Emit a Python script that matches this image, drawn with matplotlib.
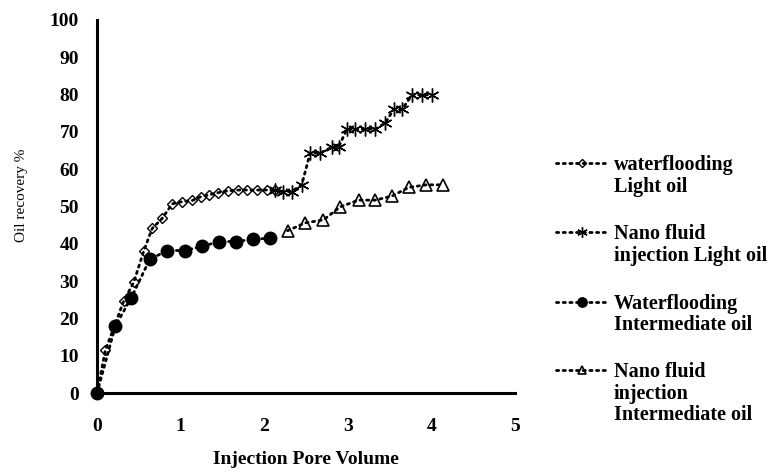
import matplotlib
matplotlib.use("Agg")
import matplotlib.pyplot as plt
from matplotlib.lines import Line2D

plt.rcParams["font.family"] = ["Liberation Serif", "DejaVu Serif"]

# waterflooding, light oil
wf_light_x = [0, 0.10, 0.21, 0.32, 0.44, 0.56, 0.66, 0.78, 0.90, 1.02, 1.14,
              1.24, 1.34, 1.45, 1.57, 1.69, 1.79, 1.91, 2.03, 2.13]
wf_light_y = [0, 11.5, 18.0, 24.7, 29.7, 38.1, 44.1, 46.8, 50.7, 51.3, 51.6,
              52.6, 53.1, 53.7, 54.2, 54.4, 54.4, 54.4, 54.4, 54.4]

# nano fluid injection, light oil
nf_light_x = [2.13, 2.23, 2.33, 2.45, 2.55, 2.67, 2.81, 2.89, 2.99, 3.09,
              3.21, 3.33, 3.45, 3.55, 3.65, 3.77, 3.89, 4.01]
nf_light_y = [54.4, 54.0, 54.0, 55.8, 64.3, 64.3, 65.9, 65.9, 70.7, 70.7,
              70.7, 70.7, 72.4, 76.0, 76.0, 79.9, 79.9, 79.9]

# waterflooding, intermediate oil
wf_inter_x = [0, 0.22, 0.41, 0.63, 0.84, 1.05, 1.26, 1.46, 1.66, 1.87, 2.07]
wf_inter_y = [0, 18.0, 25.5, 35.8, 38.2, 38.2, 39.3, 40.6, 40.6, 41.2, 41.5]

# nano fluid injection, intermediate oil
nf_inter_x = [2.28, 2.49, 2.71, 2.91, 3.13, 3.33, 3.53, 3.73, 3.94, 4.14]
nf_inter_y = [43.5, 45.6, 46.4, 49.9, 51.7, 51.7, 52.8, 55.1, 55.8, 55.8]

labels = ["waterflooding\nLight oil",
          "Nano fluid\ninjection Light oil",
          "Waterflooding\nIntermediate oil",
          "Nano fluid\ninjection\nIntermediate oil"]

dots = (0, (0.8, 1.6))
star = (6, 2, 0)
styles = [
    dict(marker="D", markersize=5.5, markerfacecolor="none", markeredgewidth=1.0),
    dict(marker=star, markersize=10, markeredgewidth=1.0),
    dict(marker="o", markersize=9, markerfacecolor="black"),
    dict(marker="^", markersize=8, markerfacecolor="none", markeredgewidth=1.2),
]
series = [(wf_light_x, wf_light_y), (nf_light_x, nf_light_y),
          (wf_inter_x, wf_inter_y), (nf_inter_x, nf_inter_y)]

fig = plt.figure(figsize=(7.71, 4.73), dpi=100)
ax = fig.add_axes([0.1258, 0.169, 0.542, 0.789])

for (xs, ys), st in zip(series, styles):
    ax.plot(xs, ys, color="black", linestyle=dots, linewidth=2,
            dash_capstyle="round", markeredgecolor="black", clip_on=False, **st)

ax.set_xlim(0, 5)
ax.set_ylim(0, 100)
ax.set_xticks(range(0, 6))
ax.set_yticks(range(0, 101, 10))
ax.tick_params(length=0, labelsize=14)
ax.tick_params(axis="x", pad=18)
ax.tick_params(axis="y", pad=13)
for lab in ax.get_xticklabels() + ax.get_yticklabels():
    lab.set_fontweight("bold")
for side in ["top", "right"]:
    ax.spines[side].set_visible(False)
for side in ["left", "bottom"]:
    ax.spines[side].set_linewidth(2.2)

ax.set_xlabel("Injection Pore Volume", fontsize=14, fontweight="bold")
ax.xaxis.set_label_coords(0.5, -0.155)
ax.set_ylabel("Oil recovery %", fontsize=11)
ax.yaxis.set_label_coords(-0.165, 0.53)

# legend drawn by hand so the key sits on the first text line
leg_y = [163, 232, 302, 370]
for ly, lab, st in zip(leg_y, labels, styles):
    fy = 1 - ly / 473
    small = dict(st)
    small["markersize"] = st["markersize"] * 0.75
    fig.add_artist(Line2D([556 / 771, 582 / 771, 608 / 771], [fy, fy, fy],
                          color="black", linestyle=dots, linewidth=2,
                          dash_capstyle="round", markevery=[1],
                          markeredgecolor="black", **small))
    fig.text(614 / 771, fy + 8 / 473, lab, fontsize=14.5, fontweight="bold",
             va="top", ha="left", linespacing=1.1)

fig.savefig("out.png", dpi=100)
